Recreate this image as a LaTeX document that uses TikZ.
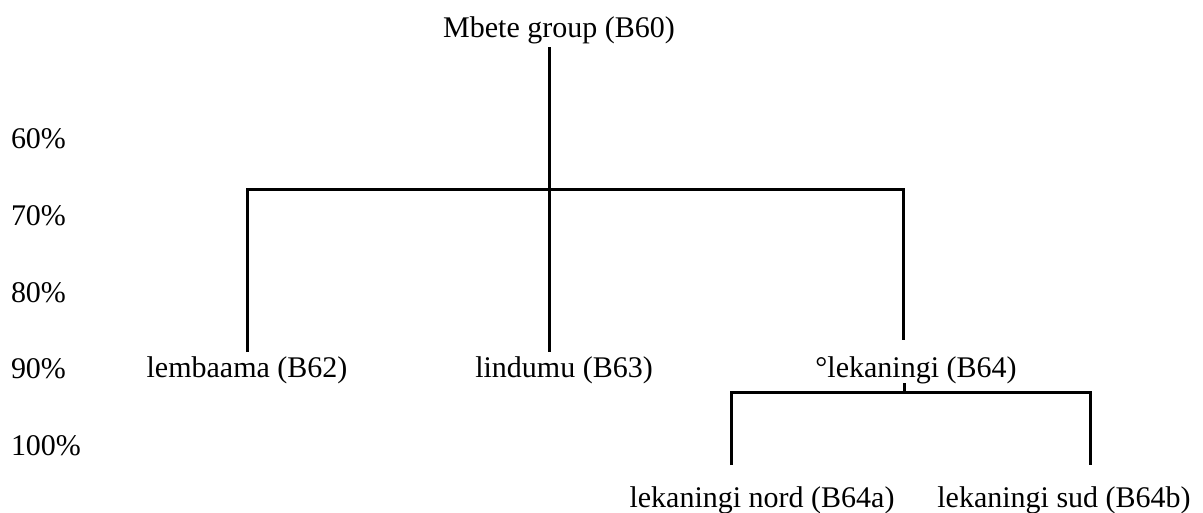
\documentclass[tikz,border=0pt]{standalone}
\usepackage{fontspec}
\setmainfont{Liberation Serif}
\begin{document}
\begin{tikzpicture}[x=1pt,y=-1pt,line width=3pt,
    lang/.style={inner sep=0pt,outer sep=4pt,anchor=base,font=\fontsize{30}{36}\selectfont},
    pct/.style={lang,anchor=base west}]
        \useasboundingbox (0,0) rectangle (1203,512);
        % Scale
        \node[pct] (p60) at (7,148) {60\%};
        \node[pct] (p70) at (7,225) {70\%};
        \node[pct] (p80) at (7,302) {80\%};
        \node[pct] (p90) at (7,378) {90\%};
        \node[pct] (p100) at (7,455) {100\%};
        % Mbete group
        \node[lang] (b60) at (559,37) {Mbete group (B60)};
        \coordinate (jmid) at (549,189);
        \coordinate (jleft) at (247,189);
        \coordinate (jright) at (903,189);
        \node[lang] (b62) at (247,377) {lembaama (B62)};
        \node[lang] (b63) at (564,377) {lindumu (B63)};
        \node[lang] (b64) at (916,377) {°lekaningi (B64)};
        \draw (b60.south -| jmid) -- (b63.north -| jmid);
        \draw [shorten >=12pt] (b62.north -| jleft) -- (jleft) -- (jright) -- (b64.north -| jright);
        % Lekaningi
        \coordinate (kstub) at (904,392);
        \coordinate (kleft) at (731,392);
        \coordinate (kright) at (1090,392);
        \node[lang] (b64a) at (762,507) {lekaningi nord (B64a)};
        \node[lang] (b64b) at (1064,507) {lekaningi sud (B64b)};
        \draw [shorten <=-4pt] (b64.south -| kstub) -- (kstub);
        \draw [shorten <=17pt,shorten >=17pt] (b64a.north -| kleft) -- (kleft) -- (kright) -- (b64b.north -| kright);
\end{tikzpicture}
\end{document}
